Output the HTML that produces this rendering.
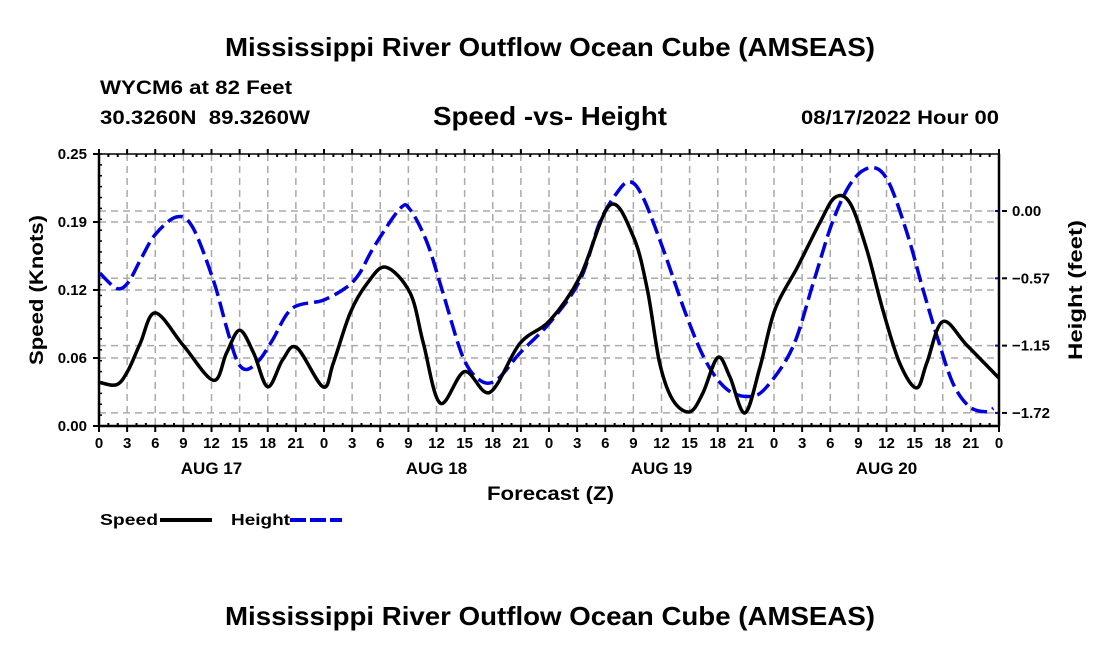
<!DOCTYPE html>
<html><head><meta charset="utf-8"><style>
body{margin:0;background:#fff;}
svg{display:block;font-family:"Liberation Sans",sans-serif;font-weight:bold;}
</style></head><body>
<svg id="c" width="1100" height="650" viewBox="0 0 1100 650" xmlns="http://www.w3.org/2000/svg">
<text x="225" y="56" font-size="26" textLength="650" lengthAdjust="spacingAndGlyphs">Mississippi River Outflow Ocean Cube (AMSEAS)</text>
<text x="100" y="94" font-size="19" textLength="192" lengthAdjust="spacingAndGlyphs">WYCM6 at 82 Feet</text>
<text x="100" y="124" font-size="19" textLength="210" lengthAdjust="spacingAndGlyphs" xml:space="preserve">30.3260N  89.3260W</text>
<text x="433" y="125" font-size="26" textLength="234" lengthAdjust="spacingAndGlyphs">Speed -vs- Height</text>
<text x="801" y="124" font-size="19" textLength="198" lengthAdjust="spacingAndGlyphs">08/17/2022 Hour 00</text>
<text transform="translate(43,290) rotate(-90)" font-size="19" text-anchor="middle" textLength="150" lengthAdjust="spacingAndGlyphs">Speed (Knots)</text>
<text transform="translate(1082,290) rotate(-90)" font-size="19" text-anchor="middle" textLength="140" lengthAdjust="spacingAndGlyphs">Height (feet)</text>
<text x="487" y="500" font-size="19" textLength="127" lengthAdjust="spacingAndGlyphs">Forecast (Z)</text>
<g>
<text x="100" y="525" font-size="16" textLength="58" lengthAdjust="spacingAndGlyphs">Speed</text>
<line x1="160" y1="520" x2="212" y2="520" stroke="#000" stroke-width="4"/>
<text x="231" y="525" font-size="16" textLength="59" lengthAdjust="spacingAndGlyphs">Height</text>
<line x1="290" y1="520" x2="342" y2="520" stroke="#0000dd" stroke-width="4" stroke-dasharray="16,4"/>
</g>
<text x="225" y="625" font-size="26" textLength="650" lengthAdjust="spacingAndGlyphs">Mississippi River Outflow Ocean Cube (AMSEAS)</text>
<g id="plot"></g>
</svg>
<script>
const speedHours=[0.1,1.9,3.1,4.4,6,9,12.2,13.6,15,16.5,18,19.6,21.1,23.9,25,26.8,28.6,30.6,33.2,34.6,36.4,39,41.7,44.9,48.1,51.3,54.5,57,58.5,59.8,61.2,63,64.4,66,67.3,68.9,70.5,72.1,74.5,76.9,78.5,80.1,81.9,83.6,85.4,87.2,88.3,90,92.6,96];
const speedValues=[0.040,0.038,0.051,0.076,0.104,0.074,0.042,0.067,0.088,0.067,0.036,0.061,0.072,0.036,0.058,0.104,0.131,0.146,0.122,0.076,0.021,0.050,0.031,0.076,0.097,0.137,0.203,0.174,0.125,0.058,0.024,0.013,0.030,0.063,0.045,0.012,0.054,0.107,0.146,0.187,0.210,0.205,0.162,0.107,0.058,0.035,0.058,0.096,0.074,0.044];
const heightHours=[0.1,1.9,3.1,4.4,6,8.3,10,12.2,13.6,14.7,15.7,17.1,18.5,20.6,23.9,26.4,27.8,29.3,32.1,33.2,35,36.7,38.8,40.6,42.4,44.9,48.1,51.3,53.4,55.2,56.6,58,60.2,62.7,64.8,67,69.4,71.2,74,76.2,78.3,80.4,82.5,84.2,86.2,87.9,89.4,91.1,92.9,94.7,95.4];
const heightValues=[-0.53,-0.66,-0.61,-0.42,-0.20,-0.05,-0.14,-0.59,-0.99,-1.27,-1.35,-1.27,-1.10,-0.83,-0.76,-0.65,-0.53,-0.31,0.02,0.01,-0.27,-0.70,-1.24,-1.44,-1.44,-1.21,-0.95,-0.59,-0.10,0.15,0.25,0.12,-0.33,-0.90,-1.29,-1.52,-1.58,-1.50,-1.16,-0.61,-0.08,0.26,0.37,0.25,-0.19,-0.67,-1.07,-1.47,-1.67,-1.71,-1.68];
const xTickLabels=["0","3","6","9","12","15","18","21","0","3","6","9","12","15","18","21","0","3","6","9","12","15","18","21","0","3","6","9","12","15","18","21","0"];
const dayLabels=["AUG 17","AUG 18","AUG 19","AUG 20"];
const leftTickValues=[0,0.0625,0.125,0.1875,0.25];
const leftTickLabels=["0.00","0.06","0.12","0.19","0.25"];
const rightTickValues=[0,-0.5733,-1.1467,-1.72];
const rightTickLabels=["0.00","\u22120.57","\u22121.15","\u22121.72"];

const X0=99,X1=999,Y0=426,Y1=154;
const xs=h=>X0+h/96*(X1-X0);
const ys=v=>Y0-v/0.25*(Y0-Y1);
const yh=f=>211-f*117.4;
const NS="http://www.w3.org/2000/svg";
const plot=document.getElementById('plot');
function mk(tag,attrs,parent){const e=document.createElementNS(NS,tag);for(const k in attrs)e.setAttribute(k,attrs[k]);(parent||plot).appendChild(e);return e;}
xTickLabels.forEach((l,i)=>{const x=xs(i*3);
 const g=mk('line',{x1:x,y1:Y1,x2:x,y2:Y0,stroke:'#aaa','stroke-width':1.5,'stroke-dasharray':'7,5'});
 
 
 const t=mk('line',{x1:x,y1:Y0,x2:x,y2:Y0+6,stroke:'#000','stroke-width':2});
 
 
 const tt=mk('line',{x1:x,y1:Y1,x2:x,y2:Y1-5,stroke:'#000','stroke-width':2});
 
 
 const tx=mk('text',{x:x,y:448,'font-size':15,'text-anchor':'middle'});tx.textContent=l;
 
 
});
for(let h=0;h<=96;h++){if(h%3==0)continue;const x=xs(h);
 const m=mk('line',{x1:x,y1:Y0,x2:x,y2:Y0-3,stroke:'#000','stroke-width':2});
 
 
 const m2=mk('line',{x1:x,y1:Y1,x2:x,y2:Y1+3,stroke:'#000','stroke-width':2});
 
 
}
dayLabels.forEach((d,i)=>{const t=mk('text',{x:xs(12+24*i),y:474,'font-size':17,'text-anchor':'middle'});t.textContent=d;
 
 });
leftTickValues.forEach((v,i)=>{const y=ys(v);
 if(i>0&&i<leftTickValues.length-1){const g=mk('line',{x1:X0,y1:y,x2:X1,y2:y,stroke:'#aaa','stroke-width':1.5,'stroke-dasharray':'7,5'});
 
 }
 const t=mk('line',{x1:X0-6,y1:y,x2:X0,y2:y,stroke:'#000','stroke-width':2});
 
 
 const tx=mk('text',{x:87,y:y+5,'font-size':15,'text-anchor':'end'});tx.textContent=leftTickLabels[i];
 
 
});
for(let k=0;k<=25;k++){const y=Y0-k*(Y0-Y1)/25;
 const m=mk('line',{x1:X0,y1:y,x2:X0+3,y2:y,stroke:'#000','stroke-width':1.5});
 
 }
rightTickValues.forEach((v,i)=>{const y=yh(v);
 const g=mk('line',{x1:X0,y1:y,x2:X1,y2:y,stroke:'#aaa','stroke-width':1.5,'stroke-dasharray':'7,5'});
 
 
 const t=mk('line',{x1:X1-4,y1:y,x2:X1,y2:y,stroke:'#0000dd','stroke-width':2});
 
 
 const t2=mk('line',{x1:X1+3,y1:y,x2:X1+8,y2:y,stroke:'#000','stroke-width':2});
 
 
 const tx=mk('text',{x:1012,y:y+5,'font-size':15});tx.textContent=rightTickLabels[i];
 
 
});
const fr=mk('rect',{x:X0,y:Y1,width:X1-X0,height:Y0-Y1,fill:'none',stroke:'#000','stroke-width':1.5});


const la=mk('line',{x1:X0,y1:Y1,x2:X0,y2:Y0,stroke:'#000','stroke-width':2.5});


const ra=mk('line',{x1:X1,y1:Y1,x2:X1,y2:Y0,stroke:'#000','stroke-width':2.5});


const ba=mk('line',{x1:X0,y1:Y0,x2:X1,y2:Y0,stroke:'#000','stroke-width':2.5});


function smooth(pts){let d=`M${pts[0][0]},${pts[0][1]}`;
 for(let i=0;i<pts.length-1;i++){const p0=pts[i-1]||pts[i],p1=pts[i],p2=pts[i+1],p3=pts[i+2]||p2;
  const c1=[p1[0]+(p2[0]-p0[0])/6,p1[1]+(p2[1]-p0[1])/6],c2=[p2[0]-(p3[0]-p1[0])/6,p2[1]-(p3[1]-p1[1])/6];
  d+=` C${c1[0]},${c1[1]} ${c2[0]},${c2[1]} ${p2[0]},${p2[1]}`;}
 return d;}
const hp=mk('path',{d:smooth(heightHours.map((h,i)=>[xs(h),yh(heightValues[i])])),fill:'none',stroke:'#0000dd','stroke-width':3.5,'stroke-dasharray':'16,6'});


const sp=mk('path',{d:smooth(speedHours.map((h,i)=>[xs(h),ys(speedValues[i])])),fill:'none',stroke:'#000','stroke-width':3.5});


</script>
</body></html>
